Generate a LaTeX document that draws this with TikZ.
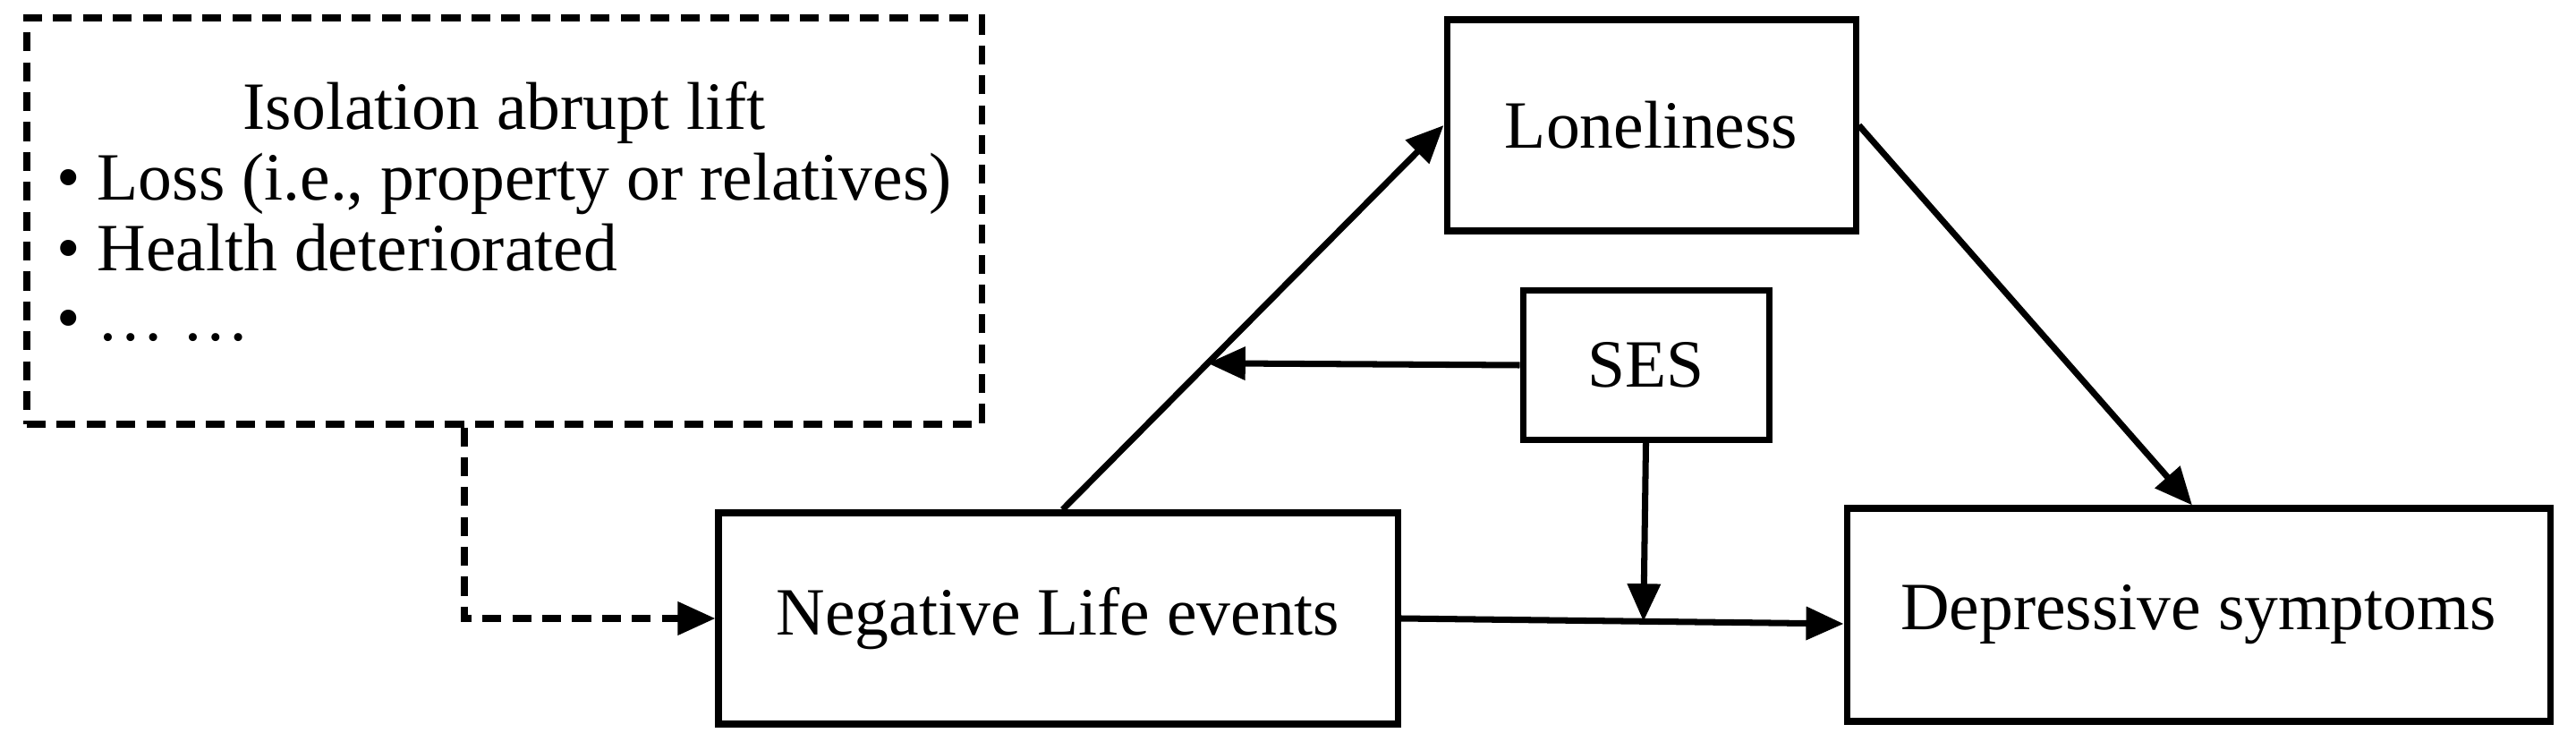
\documentclass[tikz,border=0pt]{standalone}
\usepackage{fontspec}
\setmainfont{Liberation Serif}
\usetikzlibrary{arrows.meta, calc}

\begin{document}
\begin{tikzpicture}[
  box/.style={draw, line width=2pt, inner sep=0pt, align=center, font=\fontsize{21.5}{22.4}\selectfont},
  dbox/.style={box, dash pattern=on 6pt off 3.5pt},
  arrow/.style={-{Triangle[length=0.42cm, width=0.36cm]}, line width=2pt},
  darrow/.style={arrow, dash pattern=on 6pt off 3.5pt}
]
\useasboundingbox (0,0) rectangle (28.79,8.37);

% Factors box
\node[dbox, minimum width=10.67cm, minimum height=4.54cm] (iso) at (5.635,5.90)
  {\raisebox{0.1cm}{\begin{tabular}{@{}l@{}}\multicolumn{1}{c}{Isolation abrupt lift}\\
   \textbullet\ Loss (i.e., property or relatives)\\
   \textbullet\ Health deteriorated\\
   \textbullet\ \dots\ \dots\end{tabular}}};

% Main boxes
\node[box, minimum width=7.59cm, minimum height=2.36cm] (nle) at (11.825,1.46) {Negative Life events};
\node[box, minimum width=4.57cm, minimum height=2.36cm] (lon) at (18.455,6.97) {Loneliness};
\node[box, minimum width=2.75cm, minimum height=1.67cm] (ses) at (18.395,4.29) {SES};
\node[box, minimum width=7.86cm, minimum height=2.38cm] (dep) at (24.57,1.50) {Depressive symptoms};

% Helper points on the paths
\coordinate (nletop) at ($(nle.north)+(0.05,0)$);
\coordinate (depin) at ($(dep.west)+(0,-0.1)$);
\path (nletop) -- (lon.west) coordinate[pos=0.381] (mod1);
\path (nle.east) -- (depin) coordinate[pos=0.548] (mod2);

% Connectors
\draw[darrow] ($(iso.south)+(-0.445,0)$) |- (nle.west);
\draw[arrow] (nletop) -- (lon.west);
\draw[arrow] (ses.west) -- (mod1);
\draw[arrow] (nle.east) -- (depin);
\draw[arrow] (ses.south) -- (mod2);
\draw[arrow] (lon.east) -- ($(dep.north)+(-0.07,0)$);

\end{tikzpicture}
\end{document}
